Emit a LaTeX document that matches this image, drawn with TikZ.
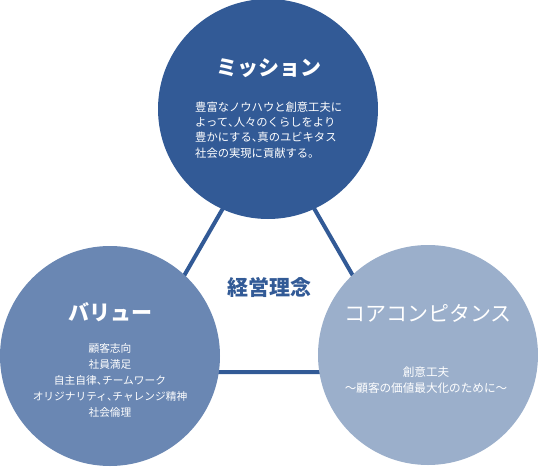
\documentclass[tikz,border=0pt]{standalone}
\usepackage{fontspec}
\setmainfont{Noto Sans CJK JP}
\newcommand{\hcomma}{{\addfontfeature{RawFeature=+halt}、}}
\definecolor{cdark}{HTML}{325A96}
\definecolor{cmid}{HTML}{6A87B3}
\definecolor{clight}{HTML}{9BAFCB}
\tikzset{
  bigcircle/.style={circle, minimum size=220pt, inner sep=0pt},
  title/.style={text=white, font=\fontsize{21}{24}\selectfont\bfseries, inner sep=0pt},
  body/.style={text=white, inner sep=0pt},
  link/.style={draw=cdark, line width=4pt}
}
\begin{document}
\begin{tikzpicture}[x=1pt,y=-1pt]
\useasboundingbox (0,0) rectangle (538,466);
\coordinate (A) at (268.5,129.4);
\coordinate (B) at (128.5,372);
\coordinate (C) at (408.5,372);
\draw[link] (A) -- (B) -- (C) -- cycle;
\node[bigcircle, fill=cdark] (mission) at (268,109) {};
\node[bigcircle, fill=cmid] (value) at (110,356) {};
\node[bigcircle, fill=clight] (core) at (428,355) {};
\node[title] (missiontitle) at (269,68) {ミッション};
\node[body, anchor=west, align=left, font=\fontsize{11.3}{15.4}\selectfont] (missionbody) at (195,130) {豊富なノウハウと創意工夫に\\よって\hcomma 人々のくらしをより\\豊かにする\hcomma 真のユビキタス\\社会の実現に貢献する。};
\node[title] (valuetitle) at (110,312) {バリュー};
\node[body, align=center, font=\fontsize{10.7}{16}\selectfont] (valuebody) at (110,380) {顧客志向\\社員満足\\自主自律\hcomma チームワーク\\オリジナリティ\hcomma チャレンジ精神\\社会倫理};
\node[title, font=\fontsize{21}{24}\selectfont] (coretitle) at (428,313) {コアコンピタンス};
\node[body, align=center, font=\fontsize{11.6}{16}\selectfont] (corebody) at (426,380) {創意工夫\\～顧客の価値最大化のために～};
\node[text=cdark, font=\fontsize{21}{24}\selectfont\bfseries, inner sep=0pt] (philosophy) at (269,287) {経営理念};
\end{tikzpicture}
\end{document}
